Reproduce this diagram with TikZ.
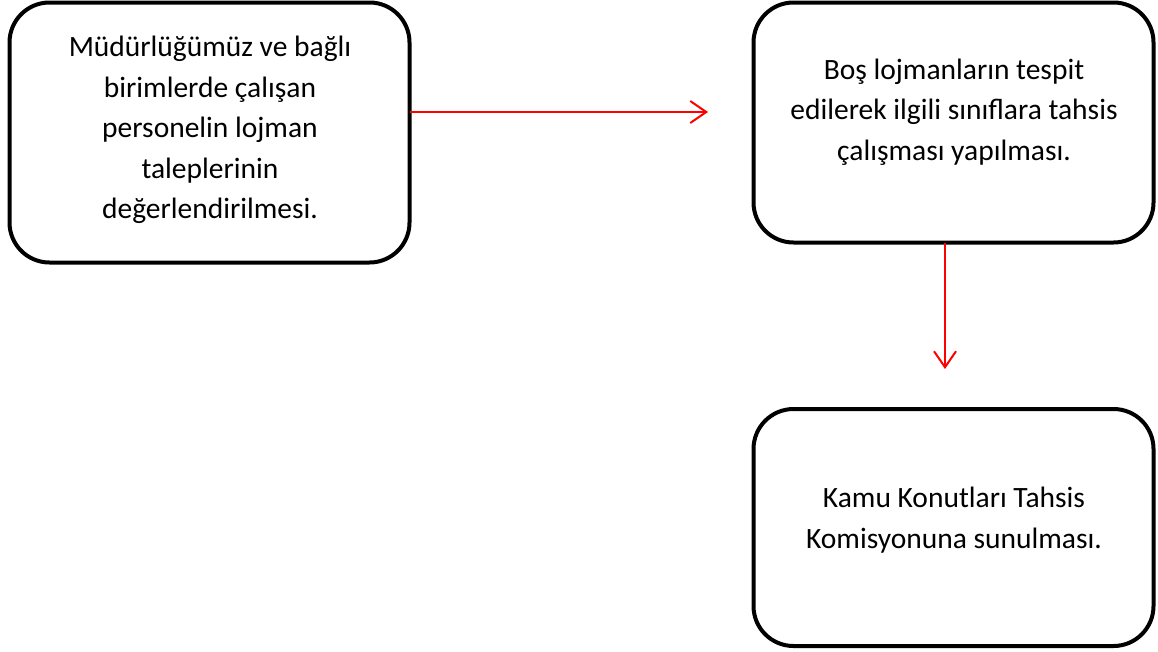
\documentclass[tikz,border=0pt]{standalone}
\usepackage{fontspec}
\setmainfont{Carlito}
\usetikzlibrary{arrows.meta}
\begin{document}
\begin{tikzpicture}[x=1pt,y=-1pt,
  stepbox/.style={draw=black,line width=4pt,rounded corners=40pt,fill=white,
    minimum width=400pt,inner sep=0pt,outer sep=0pt},
  boxtext/.style={align=center,font=\fontsize{29.5}{40.5}\selectfont,inner sep=0pt},
  flow/.style={draw=red,line width=2pt,-{Straight Barb[length=16pt,width=22pt,line width=2pt]}}]
\useasboundingbox (0,0) rectangle (1158,651);
% boxes
\node[stepbox,minimum height=260pt] (b1) at (209.5,132.5) {};
\node[stepbox,minimum height=240pt] (b2) at (953.5,122.5) {};
\node[stepbox,minimum height=237pt] (b3) at (953.5,527.5) {};
% texts
\node[boxtext] (t1) at (210,130) {Müdürlüğümüz ve bağlı\\birimlerde çalışan\\personelin lojman\\taleplerinin\\değerlendirilmesi.};
\node[boxtext] (t2) at (954,112) {Boş lojmanların tespit\\edilerek ilgili sınıflara tahsis\\çalışması yapılması.};
\node[boxtext] (t3) at (954,520) {Kamu Konutları Tahsis\\Komisyonuna sunulması.};
% connectors
\coordinate (e1) at (708,112);
\coordinate (e2) at (945,369);
\draw[flow] (b1.east |- e1) -- (e1);
\draw[flow] (b2.south -| e2) -- (e2);
\end{tikzpicture}
\end{document}
